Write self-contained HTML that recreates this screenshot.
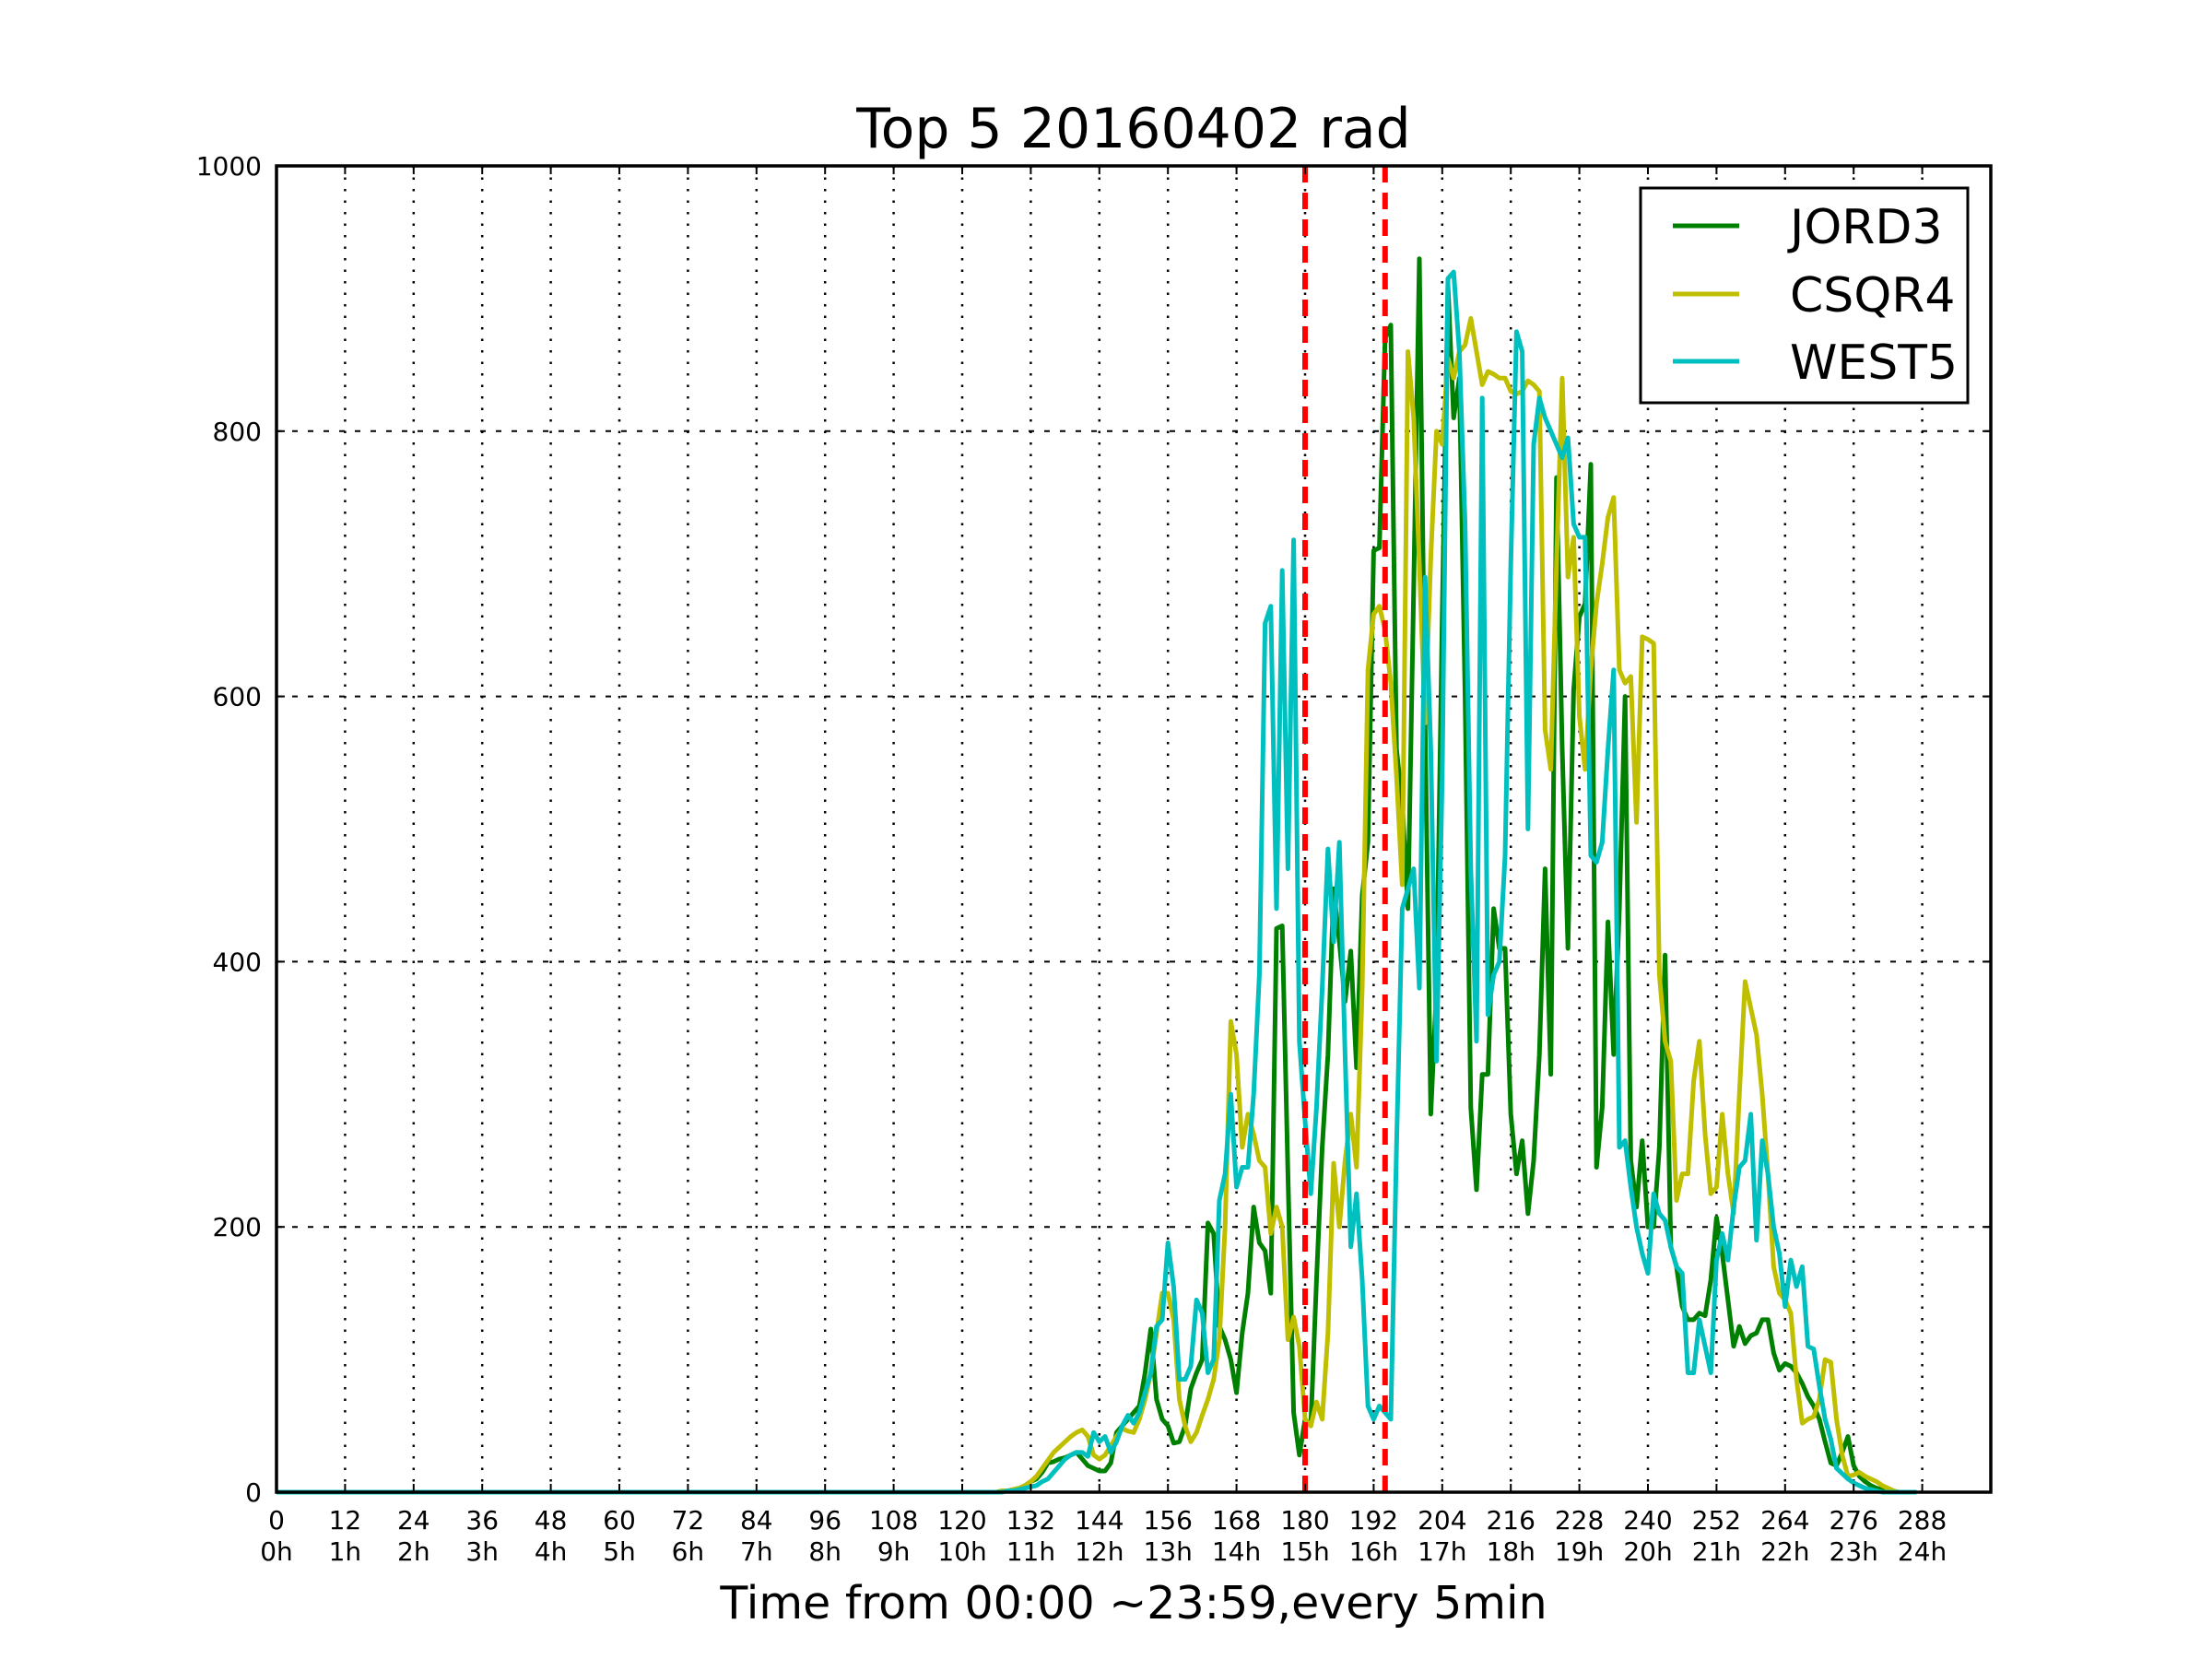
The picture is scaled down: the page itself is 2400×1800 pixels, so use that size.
<!DOCTYPE html>
<html><head><meta charset="utf-8"><style>
html,body{margin:0;padding:0;background:#fff;}
svg{display:block;font-family:"DejaVu Sans","Liberation Sans",sans-serif;}
</style></head><body>
<svg id="chart" width="2400" height="1800" viewBox="0 0 2400 1800" xmlns="http://www.w3.org/2000/svg">
<rect x="0" y="0" width="2400" height="1800" fill="#fff"/>
<g id="grid"></g>
<g id="series"></g>
<g id="axes"></g>
<text x="1230" y="160" font-size="60" text-anchor="middle">Top 5 20160402 rad</text>
<text x="1230" y="1756" font-size="49" text-anchor="middle">Time from 00:00 ~23:59,every 5min</text>
<g>
<rect x="1780" y="204" width="355" height="233" fill="#fff" stroke="#000" stroke-width="3"/>
<line x1="1815" y1="245" x2="1887" y2="245" stroke="#008000" stroke-width="5"/>
<text x="1942" y="264" font-size="52">JORD3</text>
<line x1="1815" y1="319" x2="1887" y2="319" stroke="#bfbf00" stroke-width="5"/>
<text x="1942" y="338" font-size="52">CSQR4</text>
<line x1="1815" y1="392" x2="1887" y2="392" stroke="#00bfbf" stroke-width="5"/>
<text x="1942" y="411" font-size="52">WEST5</text>
</g>
</svg>
<script>
const startIndex = 124;
const jord3 = [0,0,0,1,1,2,
3,5,8,10,15,22,23,25,26,28,
30,25,20,18,16,16,22,45,50,55,
60,65,90,123,70,55,50,37,38,50,
78,90,100,203,195,125,115,100,75,120,
150,215,188,182,150,425,427,240,60,28,
55,50,160,260,330,455,415,370,408,320,
450,490,710,712,870,880,560,520,440,680,
930,580,285,380,660,910,810,840,600,290,
228,315,315,440,410,410,285,240,265,210,
250,330,470,315,765,560,410,605,660,670,
775,245,290,430,330,440,600,250,215,265,
200,200,260,405,185,170,140,130,130,135,
133,160,207,180,145,110,125,112,118,120,
130,130,105,92,97,95,90,82,72,65,
55,38,22,20,30,42,20,12,8,5,
3,2,1,0,0,0,0,0];
const csqr4 = [0,0,0,1,1,2,
3,5,8,12,18,24,30,34,38,42,
45,47,42,28,25,28,35,42,48,46,
45,55,70,90,120,150,150,130,70,50,
38,45,58,70,85,115,200,355,330,260,
285,270,250,245,195,215,200,115,132,110,
55,50,68,55,120,248,200,250,285,245,
380,620,662,668,650,610,540,458,860,810,
700,580,705,800,790,855,840,860,865,885,
860,835,845,843,840,840,830,828,830,838,
835,830,575,545,700,840,690,720,585,545,
620,670,700,735,750,620,610,615,505,645,
643,640,390,340,325,220,240,240,310,340,
270,225,230,285,240,210,300,385,365,345,
300,240,170,150,145,135,85,52,55,57,
70,100,98,55,28,12,13,15,12,10,
8,5,3,1,0,0,0,0];
const west5 = [0,0,0,0,1,1,
2,3,4,5,8,10,15,20,25,28,
30,30,27,45,38,42,30,38,50,58,
52,60,75,90,125,130,188,155,85,85,
95,145,135,90,100,220,240,300,230,245,
245,300,390,655,668,440,695,470,718,340,
280,225,290,380,485,415,490,330,185,225,
160,65,55,65,60,55,260,440,455,470,
380,690,560,325,540,915,920,860,730,470,
340,825,360,390,400,480,700,875,860,500,
790,825,810,800,790,780,795,730,720,720,
480,475,490,560,620,260,265,230,200,180,
165,225,210,205,185,170,165,90,90,130,
110,90,175,195,175,215,245,250,285,190,
265,240,200,180,140,175,155,170,110,108,
80,55,40,18,14,10,7,5,3,2,
1,0,0,0,0,0,0,0];
const xTicks = [0,12,24,36,48,60,72,84,96,108,120,132,144,156,168,180,192,204,216,228,240,252,264,276,288];
const xTickHours = ["0h","1h","2h","3h","4h","5h","6h","7h","8h","9h","10h","11h","12h","13h","14h","15h","16h","17h","18h","19h","20h","21h","22h","23h","24h"];
const yTicks = [0,200,400,600,800,1000];
const markerLines = [180,194];

const NS="http://www.w3.org/2000/svg";
const L=300,R=2160,T=180,B=1619,XMAX=300,YMAX=1000;
const X=v=>L+(v/XMAX)*(R-L);
const Y=v=>B-(v/YMAX)*(B-T);
function mk(tag,attrs,parent){const e=document.createElementNS(NS,tag);for(const k in attrs)e.setAttribute(k,attrs[k]);parent.appendChild(e);return e;}
const grid=document.getElementById('grid'),ser=document.getElementById('series'),axes=document.getElementById('axes');

xTicks.forEach((t,i)=>{
  if(t>0){const g=mk('line',{x1:X(t),x2:X(t),y1:T,y2:B,stroke:'#000','stroke-width':2.5,'stroke-dasharray':'2.5 10'},grid);
  
  }
  const tk=mk('line',{x1:X(t),x2:X(t),y1:B,y2:B-9,stroke:'#000','stroke-width':2},axes);
  
  
  const tk2=mk('line',{x1:X(t),x2:X(t),y1:T,y2:T+9,stroke:'#000','stroke-width':2},axes);
  
  
  const a=mk('text',{x:X(t),y:1659,'font-size':28,'text-anchor':'middle'},axes);a.textContent=t;
  
  
  const b=mk('text',{x:X(t),y:1693,'font-size':28,'text-anchor':'middle'},axes);b.textContent=xTickHours[i];
  
  
});
yTicks.forEach(t=>{
  if(t>0&&t<YMAX){const g=mk('line',{x1:L,x2:R,y1:Y(t),y2:Y(t),stroke:'#000','stroke-width':2,'stroke-dasharray':'6 11'},grid);
  
  }
  const tk=mk('line',{x1:L,x2:L+9,y1:Y(t),y2:Y(t),stroke:'#000','stroke-width':2},axes);
  
  
  const tk2=mk('line',{x1:R,x2:R-9,y1:Y(t),y2:Y(t),stroke:'#000','stroke-width':2},axes);
  
  
  const a=mk('text',{x:284,y:Y(t)+10,'font-size':28,'text-anchor':'end'},axes);a.textContent=t;
  
  
});
function drawSeries(arr,color,name){
  let pts=[];
  for(let i=0;i<startIndex;i++)pts.push(X(i)+','+Y(0));
  arr.forEach((v,i)=>pts.push(X(startIndex+i)+','+Y(v)));
  const p=mk('polyline',{points:pts.join(' '),fill:'none',stroke:color,'stroke-width':5,'stroke-linejoin':'round'},ser);
  
  
}
drawSeries(jord3,'#008000','series-jord3');
drawSeries(csqr4,'#bfbf00','series-csqr4');
drawSeries(west5,'#00bfbf','series-west5');
markerLines.forEach(m=>{
  const l=mk('line',{x1:X(m),x2:X(m),y1:T,y2:B,stroke:'#ff0000','stroke-width':6,'stroke-dasharray':'18 11'},ser);
  
  
});
const fr=mk('rect',{x:L,y:T,width:R-L,height:B-T,fill:'none',stroke:'#000','stroke-width':3.5},axes);


</script>
</body></html>
